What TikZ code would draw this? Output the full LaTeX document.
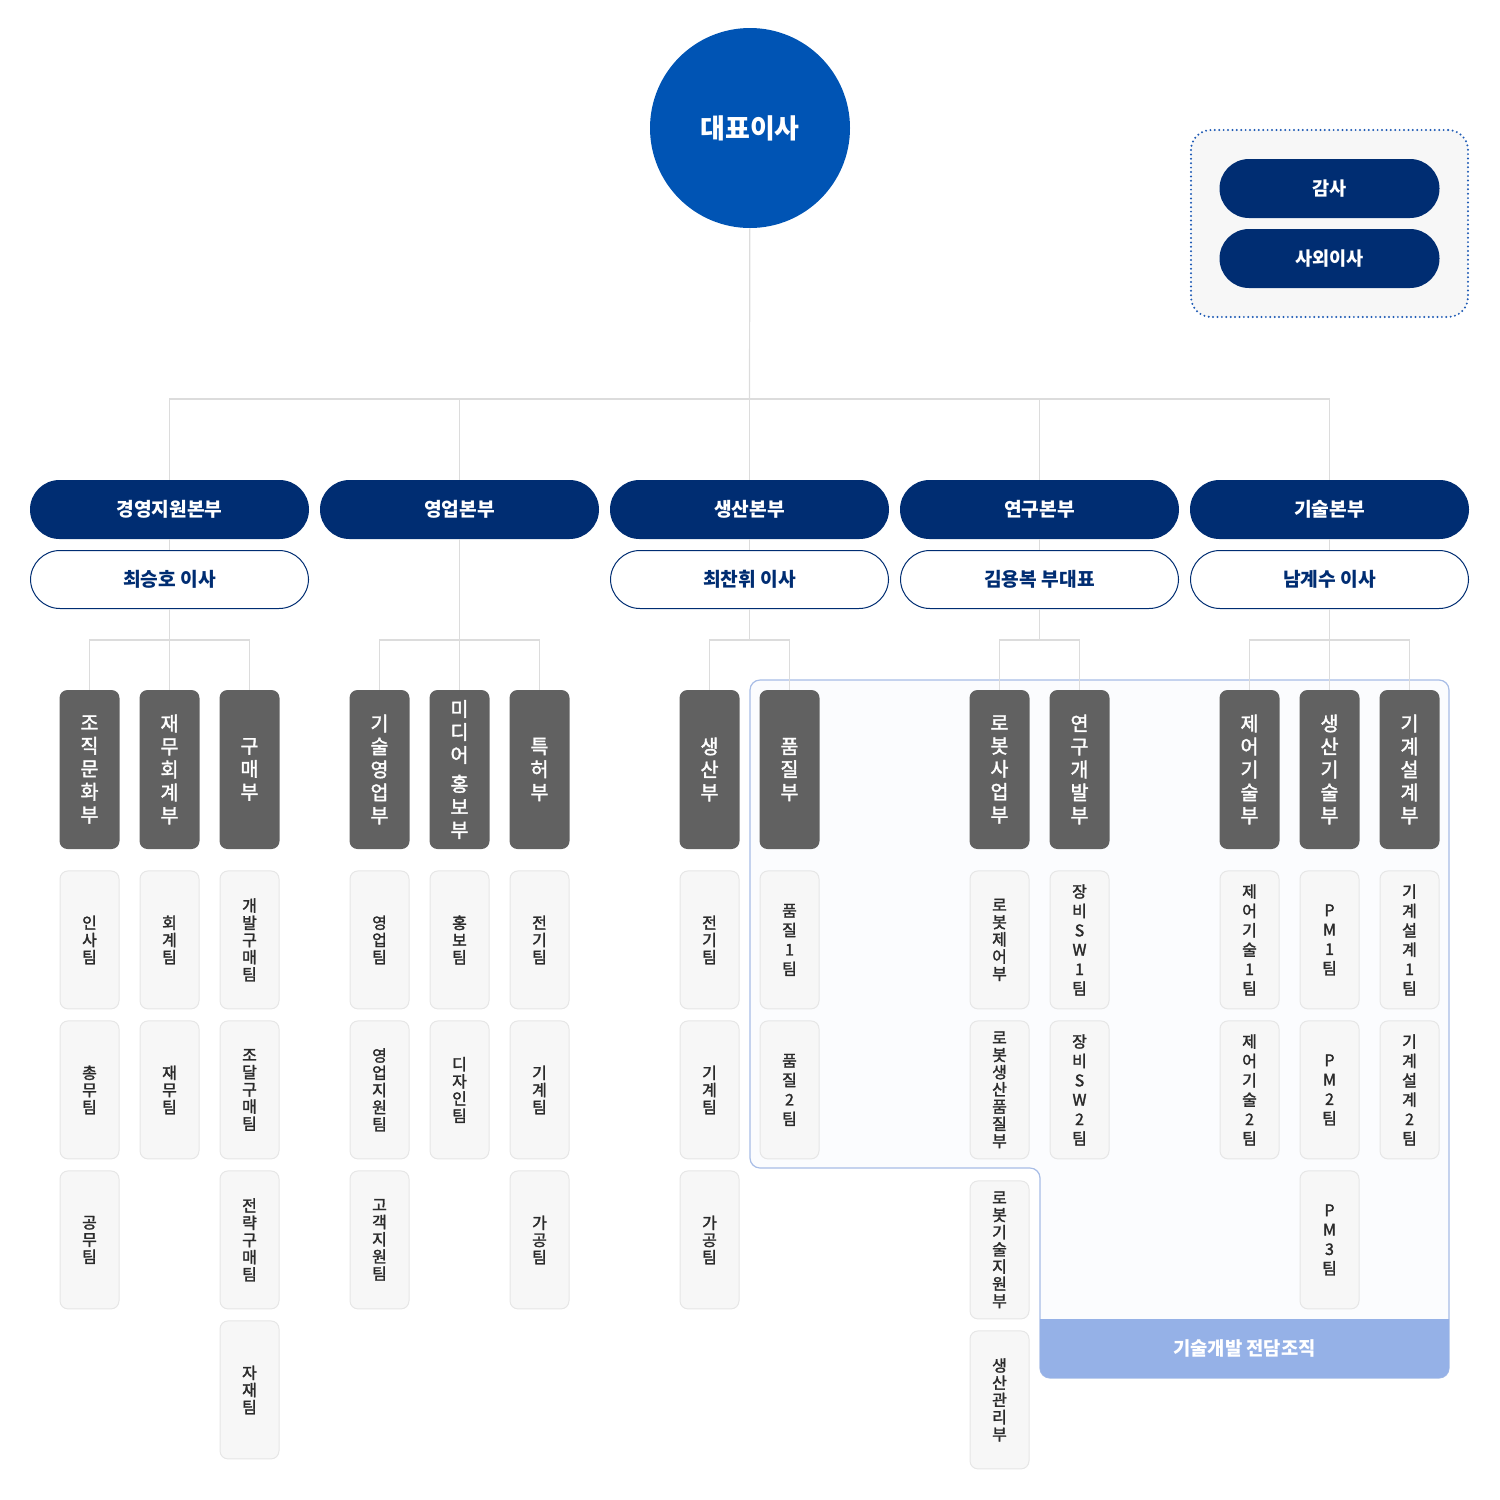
\documentclass[tikz,border=0pt]{standalone}
\usepackage{fontspec}
\setmainfont{Noto Sans CJK KR}
\newfontfamily\krmid[FakeBold=1.8]{Noto Sans CJK KR}
\usetikzlibrary{positioning}

\definecolor{navy}{HTML}{002D72}
\definecolor{ceoblue}{HTML}{0054B4}
\definecolor{deptgray}{HTML}{616161}
\definecolor{teamfill}{HTML}{F7F7F7}
\definecolor{teamline}{HTML}{E6E6E6}
\definecolor{linkgray}{HTML}{DCDCDC}
\definecolor{techline}{HTML}{A8BDE6}
\definecolor{techfill}{HTML}{FBFCFE}
\definecolor{techband}{HTML}{95B1E7}
\definecolor{boardfill}{HTML}{F7F7F7}
\definecolor{dotblue}{HTML}{1F5BB5}
\definecolor{textdark}{HTML}{2B2B2B}

\begin{document}
\begin{tikzpicture}[x=0.5pt,y=-0.5pt,
  link/.style={draw=linkgray, line width=0.6pt},
  ceo/.style={circle, fill=ceoblue, minimum size=100pt, text=white, font=\fontsize{13.5}{16}\selectfont\bfseries},
  pill/.style={rectangle, rounded corners=14.75pt, minimum width=139.5pt, minimum height=29.5pt},
  division/.style={pill, fill=navy, text=white, font=\fontsize{9.6}{11}\selectfont\bfseries},
  director/.style={pill, draw=navy, line width=0.5pt, fill=white, minimum width=139pt, minimum height=29pt, text=navy, font=\fontsize{9.6}{11}\selectfont\bfseries},
  boardpill/.style={pill, fill=navy, minimum width=110pt, text=white, font=\fontsize{9.3}{11}\selectfont\bfseries},
  board/.style={rectangle, rounded corners=10pt, fill=boardfill, draw=dotblue, line width=1.1pt, line cap=round, dash pattern=on 0pt off 2.2pt, minimum width=138.5pt, minimum height=93.5pt},
  dept/.style={rectangle, rounded corners=4pt, fill=deptgray, minimum width=30pt, minimum height=79.5pt, inner sep=0pt, align=center, text=white, font=\krmid\fontsize{9.8}{11.5}\selectfont},
  team/.style={rectangle, rounded corners=4pt, fill=teamfill, draw=teamline, line width=0.5pt, minimum width=29.5pt, minimum height=69pt, inner sep=0pt, align=center, text=textdark, font=\krmid\fontsize{8}{8.6}\selectfont},
  teamsp/.style={team, font=\krmid\fontsize{8}{9.7}\selectfont},
  bandlabel/.style={text=white, font=\fontsize{9.4}{11}\selectfont\bfseries},
  node distance=5.5pt]
\useasboundingbox (0,0) rectangle (1500,1500);

% technology development area
\draw[techline, fill=techfill, line width=0.6pt, rounded corners=5pt] (750,680) -- (1449,680) -- (1449,1378) -- (1040,1378) -- (1040,1168) -- (750,1168) -- cycle;
\begin{scope}
\clip[rounded corners=5pt] (750,680) -- (1449,680) -- (1449,1378) -- (1040,1378) -- (1040,1168) -- (750,1168) -- cycle;
\fill[techband] (1040,1319) rectangle (1450,1380);
\end{scope}
\node[bandlabel] (techlabel) at (1244.5,1348.5) {기술개발 전담조직};

% chief executive and board
\node[ceo] (ceo) at (750,128) {대표이사};
\node[board] (board) at (1329.5,223.5) {};
\node[boardpill] (audit) at (1329.5,188.5) {감사};
\node[boardpill] (outdir) at (1329.5,258.5) {사외이사};

% divisions
\node[division] (div1) at (169.5,509.5) {경영지원본부};
\node[division] (div2) at (459.5,509.5) {영업본부};
\node[division] (div3) at (749.5,509.5) {생산본부};
\node[division] (div4) at (1039.5,509.5) {연구본부};
\node[division] (div5) at (1329.5,509.5) {기술본부};

% directors
\node[director] (dir1) at (169.5,579.5) {최승호 이사};
\node[director] (dir3) at (749.5,579.5) {최찬휘 이사};
\node[director] (dir4) at (1039.5,579.5) {김용복 부대표};
\node[director] (dir5) at (1329.5,579.5) {남계수 이사};

% departments
\node[dept] (d11) at (89.5,769.5) {조\\직\\문\\화\\부};
\node[dept] (d12) at (169.5,769.5) {재\\무\\회\\계\\부};
\node[dept] (d13) at (249.5,769.5) {구\\매\\부};
\node[dept] (d21) at (379.5,769.5) {기\\술\\영\\업\\부};
\node[dept] (d22) at (459.5,769.5) {미\\디\\어\\[3pt]홍\\보\\부};
\node[dept] (d23) at (539.5,769.5) {특\\허\\부};
\node[dept] (d31) at (709.5,769.5) {생\\산\\부};
\node[dept] (d32) at (789.5,769.5) {품\\질\\부};
\node[dept] (d41) at (999.5,769.5) {로\\봇\\사\\업\\부};
\node[dept] (d42) at (1079.5,769.5) {연\\구\\개\\발\\부};
\node[dept] (d51) at (1249.5,769.5) {제\\어\\기\\술\\부};
\node[dept] (d52) at (1329.5,769.5) {생\\산\\기\\술\\부};
\node[dept] (d53) at (1409.5,769.5) {기\\계\\설\\계\\부};

% teams
\node[team, below=10.5pt of d11] (t111) {인\\사\\팀};
\node[team, below=of t111] (t112) {총\\무\\팀};
\node[team, below=of t112] (t113) {공\\무\\팀};
\node[team, below=10.5pt of d12] (t121) {회\\계\\팀};
\node[team, below=of t121] (t122) {재\\무\\팀};
\node[team, below=10.5pt of d13] (t131) {개\\발\\구\\매\\팀};
\node[team, below=of t131] (t132) {조\\달\\구\\매\\팀};
\node[team, below=of t132] (t133) {전\\략\\구\\매\\팀};
\node[team, below=of t133] (t134) {자\\재\\팀};
\node[team, below=10.5pt of d21] (t211) {영\\업\\팀};
\node[team, below=of t211] (t212) {영\\업\\지\\원\\팀};
\node[team, below=of t212] (t213) {고\\객\\지\\원\\팀};
\node[team, below=10.5pt of d22] (t221) {홍\\보\\팀};
\node[team, below=of t221] (t222) {디\\자\\인\\팀};
\node[team, below=10.5pt of d23] (t231) {전\\기\\팀};
\node[team, below=of t231] (t232) {기\\계\\팀};
\node[team, below=of t232] (t233) {가\\공\\팀};
\node[team, below=10.5pt of d31] (t311) {전\\기\\팀};
\node[team, below=of t311] (t312) {기\\계\\팀};
\node[team, below=of t312] (t313) {가\\공\\팀};
\node[teamsp, below=10.5pt of d32] (t321) {품\\질\\1\\팀};
\node[teamsp, below=of t321] (t322) {품\\질\\2\\팀};
\node[team, below=10.5pt of d41] (t411) {로\\봇\\제\\어\\부};
\node[team, below=of t411] (t412) {로\\봇\\생\\산\\품\\질\\부};
\node[team, below=10.5pt of t412] (t413) {로\\봇\\기\\술\\지\\원\\부};
\node[team, below=of t413] (t414) {생\\산\\관\\리\\부};
\node[teamsp, below=10.5pt of d42] (t421) {장\\비\\S\\W\\1\\팀};
\node[teamsp, below=of t421] (t422) {장\\비\\S\\W\\2\\팀};
\node[teamsp, below=10.5pt of d51] (t511) {제\\어\\기\\술\\1\\팀};
\node[teamsp, below=of t511] (t512) {제\\어\\기\\술\\2\\팀};
\node[teamsp, below=10.5pt of d52] (t521) {P\\M\\1\\팀};
\node[teamsp, below=of t521] (t522) {P\\M\\2\\팀};
\node[teamsp, below=of t522] (t523) {P\\M\\3\\팀};
\node[teamsp, below=10.5pt of d53] (t531) {기\\계\\설\\계\\1\\팀};
\node[teamsp, below=of t531] (t532) {기\\계\\설\\계\\2\\팀};

% bus points
\coordinate (bus) at (749.5,399);
\coordinate (b1) at (169.5,640);
\coordinate (b2) at (459.5,640);
\coordinate (b3) at (749.5,640);
\coordinate (b4) at (1039.5,640);
\coordinate (b5) at (1329.5,640);

% connectors
\draw[link] (ceo) -- (bus);
\draw[link] (div1.north) |- (bus);
\draw[link] (div2.north) |- (bus);
\draw[link] (div3.north) -- (bus);
\draw[link] (div4.north) |- (bus);
\draw[link] (div5.north) |- (bus);
\draw[link] (div1) -- (dir1);
\draw[link] (div3) -- (dir3);
\draw[link] (div4) -- (dir4);
\draw[link] (div5) -- (dir5);
\draw[link] (dir1) -- (b1);
\draw[link] (div2) -- (b2);
\draw[link] (dir3) -- (b3);
\draw[link] (dir4) -- (b4);
\draw[link] (dir5) -- (b5);
\draw[link] (d11.north) |- (b1);
\draw[link] (d12.north) -- (b1);
\draw[link] (d13.north) |- (b1);
\draw[link] (d21.north) |- (b2);
\draw[link] (d22.north) -- (b2);
\draw[link] (d23.north) |- (b2);
\draw[link] (d31.north) |- (b3);
\draw[link] (d32.north) |- (b3);
\draw[link] (d41.north) |- (b4);
\draw[link] (d42.north) |- (b4);
\draw[link] (d51.north) |- (b5);
\draw[link] (d52.north) -- (b5);
\draw[link] (d53.north) |- (b5);
\end{tikzpicture}
\end{document}
